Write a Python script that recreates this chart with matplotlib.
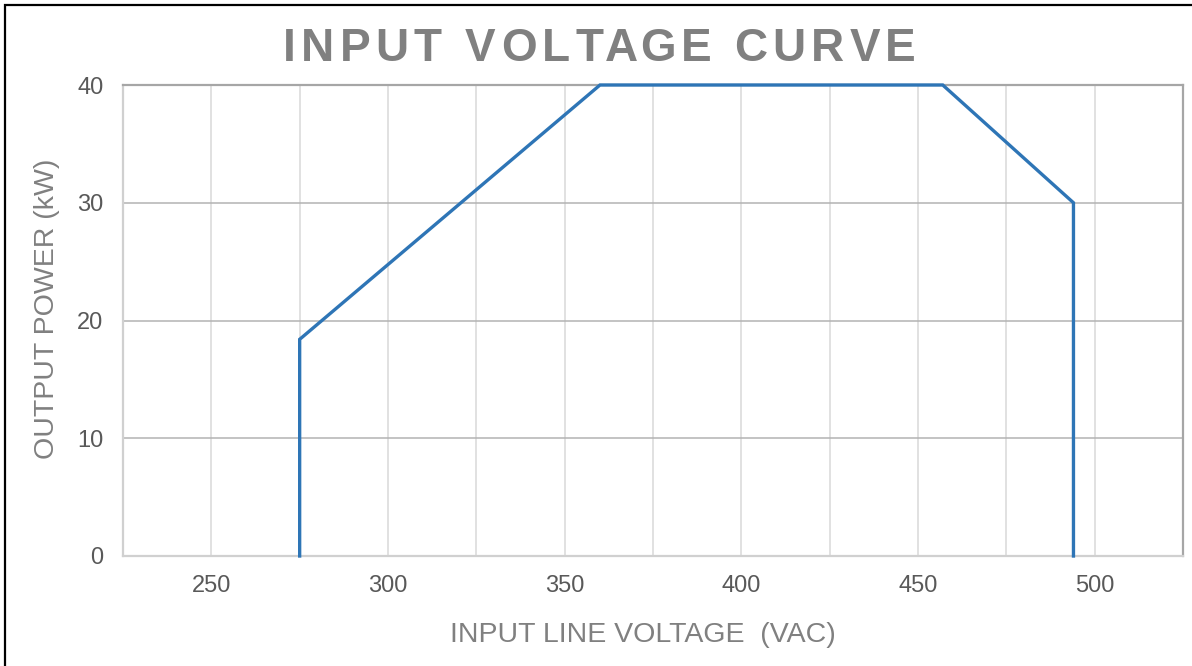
import matplotlib.pyplot as plt
from matplotlib.patches import Rectangle
from matplotlib.ticker import MultipleLocator
from matplotlib.font_manager import FontProperties

# curve points: input line voltage (VAC) vs output power (kW)
voltage = [275, 275, 360, 457, 494, 494]
power = [0, 18.4, 40, 40, 30, 0]

x_ticks = [250, 300, 350, 400, 450, 500]
y_ticks = [0, 10, 20, 30, 40]

title = 'INPUT VOLTAGE CURVE'

plt.rcParams['font.family'] = ['Liberation Sans', 'DejaVu Sans']

W, H = 1192, 666
fig = plt.figure(figsize=(W / 100, H / 100), dpi=100)
ax = fig.add_axes([123 / W, 110 / H, 1060 / W, 471 / H])

ax.plot(voltage, power, color='#2E75B6', linewidth=2.4, solid_joinstyle='miter', zorder=3, clip_on=False)

ax.set_xlim(225, 525)
ax.set_ylim(0, 40)
ax.set_xticks(x_ticks)
ax.xaxis.set_minor_locator(MultipleLocator(25))
ax.set_yticks(y_ticks)

ax.grid(which='both', axis='x', color='#d9d9d9', linewidth=1.1)
ax.grid(which='major', axis='y', color='#b3b3b3', linewidth=1.1)
ax.tick_params(which='both', length=0, labelsize=17, labelcolor='#595959')
ax.tick_params(axis='x', pad=14)
ax.tick_params(axis='y', pad=14)

for side in ['left', 'bottom']:
    ax.spines[side].set_color('#d0d0d0')
    ax.spines[side].set_linewidth(1.6)
for side in ['top', 'right']:
    ax.spines[side].set_color('#a6a6a6')
    ax.spines[side].set_linewidth(1.6)

# letter-spaced title, spread between x=283 and x=915 px
prop = FontProperties(family='Liberation Sans', weight='bold', size=33)
renderer = fig.canvas.get_renderer()

def text_w(s):
    if not s:
        return 0.0
    return renderer.get_text_width_height_descent(s, prop, ismath=False)[0]

left_px, right_px = 283, 915
spacing = (right_px - left_px - text_w(title)) / (len(title) - 1)
for i, ch in enumerate(title):
    x = left_px + text_w(title[:i]) + i * spacing
    fig.text(x / W, 1 - 61 / H, ch, ha='left', va='baseline', fontproperties=prop, color='#808080')

fig.text(643 / W, 1 - 635 / H, 'INPUT LINE VOLTAGE  (VAC)', ha='center', va='center',
         fontsize=20.5, color='#808080')
fig.text(47 / W, 1 - 309 / H, 'OUTPUT POWER (kW)', ha='center', va='center',
         rotation=90, fontsize=20.5, color='#808080')

# outer chart frame
fig.patches.append(Rectangle((5 / W, -0.1), 1.2, 1.1 - 5 / H, transform=fig.transFigure,
                             fill=False, edgecolor='black', linewidth=1.6))

fig.savefig('out.png', dpi=100)
